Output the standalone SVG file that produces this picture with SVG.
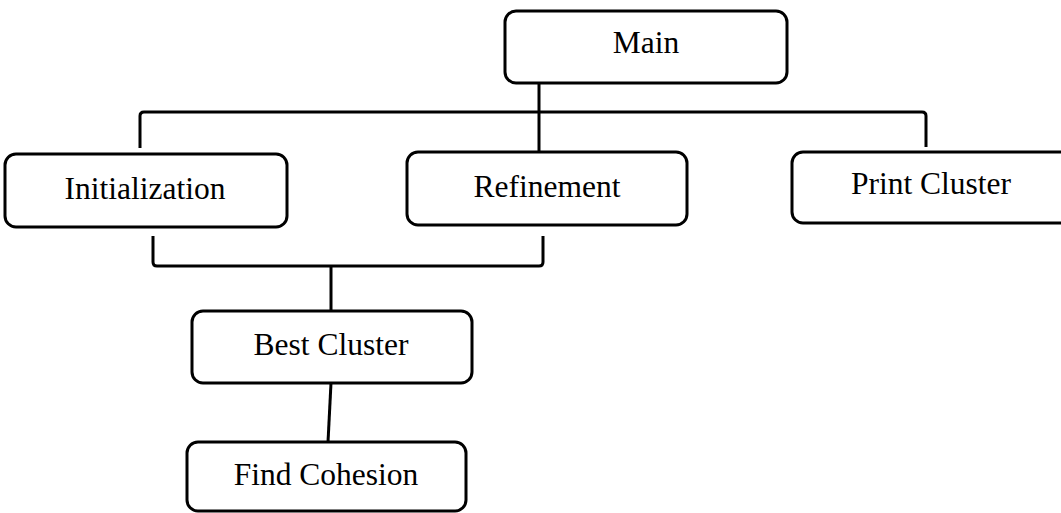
<svg xmlns="http://www.w3.org/2000/svg" width="1061" height="513" viewBox="0 0 1061 513">
<style>
.box{fill:#fff;stroke:#000;stroke-width:3}
.lbl{font-family:"Liberation Serif","Times New Roman",serif;font-size:31.5px;fill:#000;text-anchor:middle}
.con{fill:none;stroke:#000;stroke-width:3;stroke-linejoin:round}
</style>
<rect width="1061" height="513" fill="#fff"/>
<g id="connectors">
<path class="con" d="M539,83 V152"/>
<path class="con" d="M140,148 V116 Q140,112 144,112 H922 Q926,112 926,116 V147"/>
<path class="con" d="M153,236 V262 Q153,266 157,266 H539 Q543,266 543,262 V236"/>
<path class="con" d="M331,266 V311"/>
<path class="con" d="M331,383 L328,442"/>
</g>
<g id="main"><rect class="box" x="505" y="11" width="282" height="72" rx="11"/><text class="lbl" x="646" y="53">Main</text></g>
<g id="initialization"><rect class="box" x="5" y="154" width="282" height="73" rx="11"/><text class="lbl" x="145" y="199">Initialization</text></g>
<g id="refinement"><rect class="box" x="407" y="152" width="280" height="73" rx="11"/><text class="lbl" x="547" y="197">Refinement</text></g>
<g id="print-cluster"><rect class="box" x="792" y="152" width="290" height="71" rx="11"/><text class="lbl" x="931" y="194">Print Cluster</text></g>
<g id="best-cluster"><rect class="box" x="192" y="311" width="280" height="72" rx="11"/><text class="lbl" x="331" y="355">Best Cluster</text></g>
<g id="find-cohesion"><rect class="box" x="187" y="442" width="279" height="69" rx="11"/><text class="lbl" x="326" y="485">Find Cohesion</text></g>
</svg>
